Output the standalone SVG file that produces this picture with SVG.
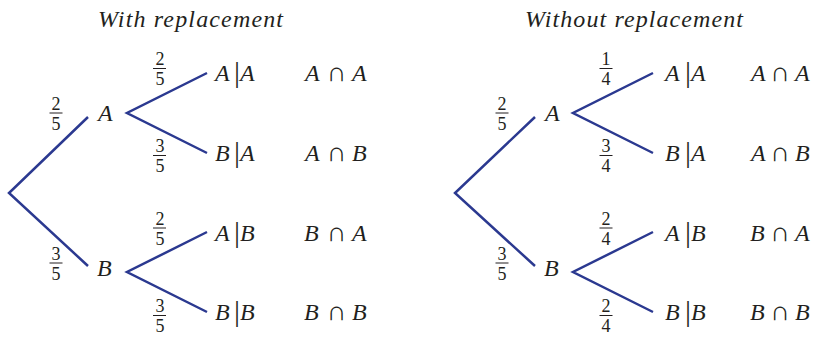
<svg xmlns="http://www.w3.org/2000/svg" width="821" height="339" viewBox="0 0 821 339">
<style>
.it{font-style:italic;font-size:24px}
.bar{font-size:30px;text-anchor:middle}
.cap{font-size:27px;text-anchor:middle}
.title{font-style:italic;font-size:24px;text-anchor:middle}
.fr{font-size:18px;text-anchor:middle}
.fl{stroke:#231f20;stroke-width:1}
.edge{stroke:#2b3990;stroke-width:2.5;fill:none}
</style>
<rect width="821" height="339" fill="#fff"/>
<g font-family="'Liberation Serif', 'Times New Roman', serif" fill="#231f20">
<text class="title" x="190.5" y="27" textLength="185" lengthAdjust="spacing">With replacement</text>
<text class="title" x="634" y="27" textLength="218" lengthAdjust="spacing">Without replacement</text>

<g id="connectors">
<path class="edge" d="M88,117 L9,193 L88,266"/>
<path class="edge" d="M207,73 L127,113 L207,153"/>
<path class="edge" d="M207,232 L127,272 L207,312"/>
<path class="edge" d="M535,117 L455,193 L535,266"/>
<path class="edge" d="M653,73 L573,113 L653,153"/>
<path class="edge" d="M653,232 L573,272 L653,312"/>
</g>

<g id="edge-labels">
<g id="f1"><text class="fr" x="160" y="65">2</text><line class="fl" x1="153" y1="68.5" x2="166" y2="68.5"/><text class="fr" x="160" y="85">5</text></g>
<g id="f2"><text class="fr" x="56" y="109.5">2</text><line class="fl" x1="49.5" y1="113" x2="62.5" y2="113"/><text class="fr" x="56" y="129.5">5</text></g>
<g id="f3"><text class="fr" x="160" y="152">3</text><line class="fl" x1="153" y1="155.5" x2="166" y2="155.5"/><text class="fr" x="160" y="172">5</text></g>
<g id="f4"><text class="fr" x="160" y="224.5">2</text><line class="fl" x1="153" y1="228" x2="166" y2="228"/><text class="fr" x="160" y="244.5">5</text></g>
<g id="f5"><text class="fr" x="56" y="259.5">3</text><line class="fl" x1="49.5" y1="263" x2="62.5" y2="263"/><text class="fr" x="56" y="279.5">5</text></g>
<g id="f6"><text class="fr" x="160" y="312">3</text><line class="fl" x1="153" y1="315.5" x2="166" y2="315.5"/><text class="fr" x="160" y="332">5</text></g>

<g id="g1"><text class="fr" x="606" y="65">1</text><line class="fl" x1="599.5" y1="68.5" x2="612.5" y2="68.5"/><text class="fr" x="606" y="85">4</text></g>
<g id="g2"><text class="fr" x="502" y="109.5">2</text><line class="fl" x1="495.5" y1="113" x2="508.5" y2="113"/><text class="fr" x="502" y="129.5">5</text></g>
<g id="g3"><text class="fr" x="606" y="152">3</text><line class="fl" x1="599.5" y1="155.5" x2="612.5" y2="155.5"/><text class="fr" x="606" y="172">4</text></g>
<g id="g4"><text class="fr" x="606" y="224.5">2</text><line class="fl" x1="599.5" y1="228" x2="612.5" y2="228"/><text class="fr" x="606" y="244.5">4</text></g>
<g id="g5"><text class="fr" x="502" y="259.5">3</text><line class="fl" x1="495.5" y1="263" x2="508.5" y2="263"/><text class="fr" x="502" y="279.5">5</text></g>
<g id="g6"><text class="fr" x="606" y="312">2</text><line class="fl" x1="599.5" y1="315.5" x2="612.5" y2="315.5"/><text class="fr" x="606" y="332">4</text></g>
</g>

<g id="L-A"><text class="it" x="98" y="121">A</text></g>
<g id="L-B"><text class="it" x="97" y="276">B</text></g>
<g id="R-A"><text class="it" x="545" y="121">A</text></g>
<g id="R-B"><text class="it" x="544" y="276">B</text></g>

<g id="L-AA"><text class="it" x="215" y="81">A</text><text class="bar" x="237" y="82">|</text><text class="it" x="240" y="81">A</text></g>
<g id="L-BA"><text class="it" x="215" y="161">B</text><text class="bar" x="237" y="162">|</text><text class="it" x="240" y="161">A</text></g>
<g id="L-AB"><text class="it" x="215" y="241">A</text><text class="bar" x="237" y="242">|</text><text class="it" x="240" y="241">B</text></g>
<g id="L-BB"><text class="it" x="215" y="320">B</text><text class="bar" x="237" y="321">|</text><text class="it" x="240" y="320">B</text></g>

<g id="L-AiA"><text class="it" x="305" y="81">A</text><text class="cap" x="336.5" y="81">∩</text><text class="it" x="352" y="81">A</text></g>
<g id="L-AiB"><text class="it" x="305" y="161">A</text><text class="cap" x="336.5" y="161">∩</text><text class="it" x="352" y="161">B</text></g>
<g id="L-BiA"><text class="it" x="304" y="241">B</text><text class="cap" x="336.5" y="241">∩</text><text class="it" x="352" y="241">A</text></g>
<g id="L-BiB"><text class="it" x="304" y="320">B</text><text class="cap" x="336.5" y="320">∩</text><text class="it" x="352" y="320">B</text></g>

<g id="R-AA"><text class="it" x="665" y="81">A</text><text class="bar" x="688" y="82">|</text><text class="it" x="691" y="81">A</text></g>
<g id="R-BA"><text class="it" x="665" y="161">B</text><text class="bar" x="688" y="162">|</text><text class="it" x="691" y="161">A</text></g>
<g id="R-AB"><text class="it" x="665" y="241">A</text><text class="bar" x="688" y="242">|</text><text class="it" x="691" y="241">B</text></g>
<g id="R-BB"><text class="it" x="665" y="320">B</text><text class="bar" x="688" y="321">|</text><text class="it" x="691" y="320">B</text></g>

<g id="R-AiA"><text class="it" x="751" y="81">A</text><text class="cap" x="780" y="81">∩</text><text class="it" x="795" y="81">A</text></g>
<g id="R-AiB"><text class="it" x="751" y="161">A</text><text class="cap" x="780" y="161">∩</text><text class="it" x="795" y="161">B</text></g>
<g id="R-BiA"><text class="it" x="750" y="241">B</text><text class="cap" x="780" y="241">∩</text><text class="it" x="795" y="241">A</text></g>
<g id="R-BiB"><text class="it" x="750" y="320">B</text><text class="cap" x="780" y="320">∩</text><text class="it" x="795" y="320">B</text></g>
</g>
</svg>
